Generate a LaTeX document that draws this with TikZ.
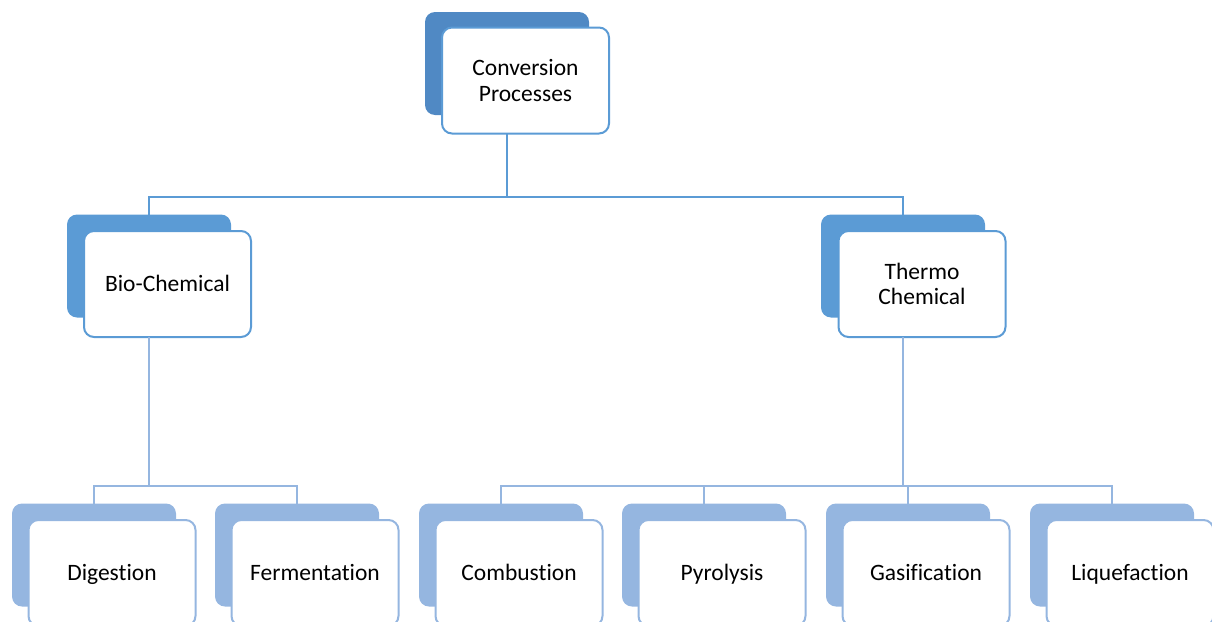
\documentclass[tikz,border=0pt]{standalone}
\usepackage{fontspec}
\setmainfont{Carlito}[Ligatures={NoCommon,NoRare,NoContextual}]
\definecolor{topback}{HTML}{5089C4}
\definecolor{midback}{HTML}{5B9BD5}
\definecolor{lowback}{HTML}{95B6E0}
\definecolor{midline}{HTML}{5B9BD5}
\definecolor{lowline}{HTML}{95B6E0}
\begin{document}
\begin{tikzpicture}[x=1pt,y=-1pt,
  backbox/.style={rectangle,rounded corners=10pt,inner sep=0pt,outer sep=0pt,minimum width=164pt,minimum height=103pt},
  frontbox/.style={rectangle,rounded corners=10pt,inner sep=0pt,outer sep=0pt,fill=white,line width=2pt,minimum width=167pt,minimum height=106pt,align=center,font=\fontsize{23.5}{25.5}\selectfont},
  oneline/.style={text height=20pt,text depth=5pt},
  conn/.style={line width=2pt},
]
\useasboundingbox (0,0) rectangle (1212,621);
\clip (0,0) rectangle (1212,621);
% junctions
\coordinate (j1) at (507,197);
\coordinate (j2) at (149,486);
\coordinate (j3) at (903,486);
% top
\node[backbox,fill=topback] (topB) at (507,63.5) {};
\node[frontbox,draw=midback] (topF) at (525.5,80.5) {Conversion\\Processes};
% level 2
\node[backbox,fill=midback] (bioB) at (149,266) {};
\node[frontbox,oneline,draw=midback] (bioF) at (167.5,284) {Bio-Chemical};
\node[backbox,fill=midback] (theB) at (903,266) {};
\node[frontbox,draw=midback] (theF) at (922,284) {Thermo\\Chemical};
% level 3
\node[backbox,fill=lowback] (digB) at (94,555) {};
\node[frontbox,oneline,draw=lowback] (digF) at (112,573) {Digestion};
\node[backbox,fill=lowback] (ferB) at (297,555) {};
\node[frontbox,oneline,draw=lowback] (ferF) at (315,573) {Fermentation};
\node[backbox,fill=lowback] (comB) at (501,555) {};
\node[frontbox,oneline,draw=lowback] (comF) at (519,573) {Combustion};
\node[backbox,fill=lowback] (pyrB) at (704,555) {};
\node[frontbox,oneline,draw=lowback] (pyrF) at (722,573) {Pyrolysis};
\node[backbox,fill=lowback] (gasB) at (908,555) {};
\node[frontbox,oneline,draw=lowback] (gasF) at (926,573) {Gasification};
\node[backbox,fill=lowback] (liqB) at (1112,555) {};
\node[frontbox,oneline,draw=lowback] (liqF) at (1130,573) {Liquefaction};
% connectors
\draw[conn,draw=midline] (topF.south -| topB) -- (j1);
\draw[conn,draw=midline] (bioB.north) |- (j1) -| (theB.north);
\draw[conn,draw=lowline] (bioF.south -| bioB) -- (j2);
\draw[conn,draw=lowline] (digB.north) |- (j2) -| (ferB.north);
\draw[conn,draw=lowline] (theF.south -| theB) -- (j3);
\draw[conn,draw=lowline] (comB.north) |- (j3) -| (liqB.north);
\draw[conn,draw=lowline] (pyrB.north) |- (j3);
\draw[conn,draw=lowline] (gasB.north) |- (j3);
\end{tikzpicture}
\end{document}
